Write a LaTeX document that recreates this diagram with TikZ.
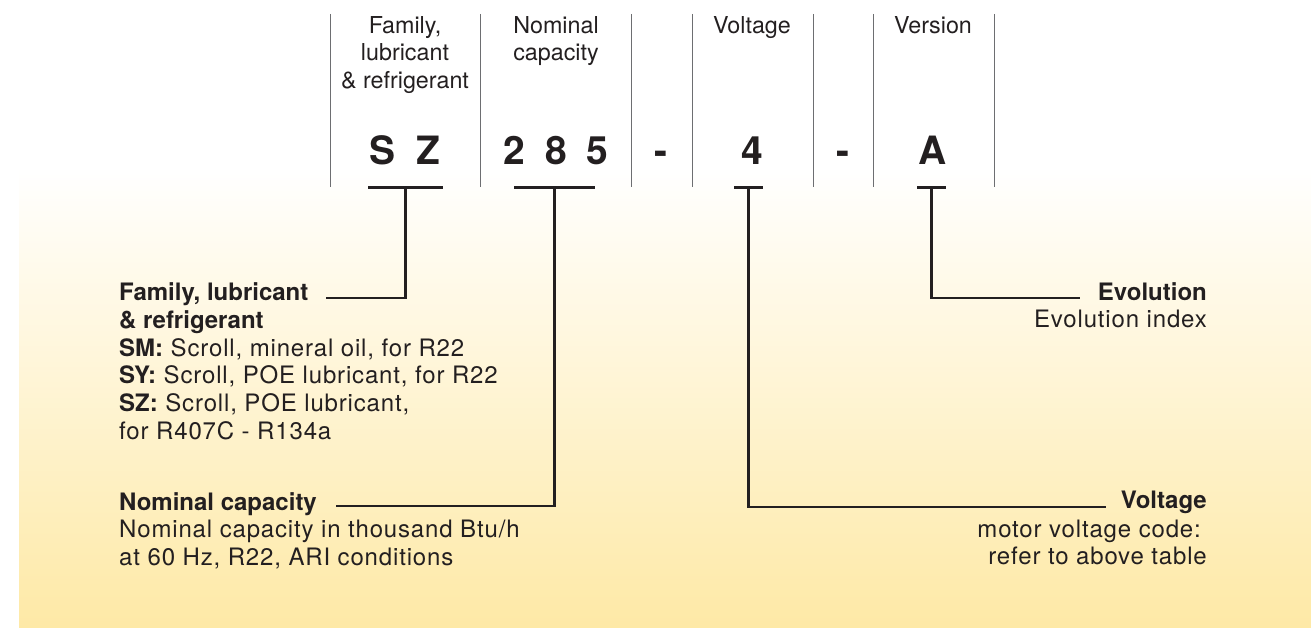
\documentclass[tikz,border=0pt]{standalone}
\usepackage{fontspec}
\setmainfont{TeX Gyre Heros}
\newfontfamily\bodyfont[LetterSpace=3.5]{TeX Gyre Heros}
\definecolor{ink}{HTML}{231F20}
\definecolor{rulegray}{HTML}{6D6E71}
\definecolor{cream}{HTML}{FEE9A6}
\newcommand{\key}[1]{{\normalfont\bfseries #1}}

\begin{document}
\begin{tikzpicture}[x=1pt,y=1pt,
  every node/.style={inner sep=0pt,text=ink},
  head/.style={align=center,anchor=north,font=\fontsize{23.3}{27.5}\selectfont},
  code/.style={anchor=base,font=\fontsize{39}{39}\selectfont\bfseries},
  bar/.style={fill=ink,minimum height=2.6pt},
  title/.style={font=\fontsize{24}{27.8}\selectfont\bfseries},
  body/.style={font=\fontsize{24}{27.8}\selectfont\bodyfont},
  lead/.style={draw=ink,line width=2.5pt},
  sep/.style={draw=rulegray,line width=1pt}]

  \useasboundingbox (0,0) rectangle (1311,-628);
  \shade[top color=white,bottom color=cream] (19,-167) rectangle (1311,-628);

  % table rules
  \draw[sep] (330,-14) -- (330,-187) (480,-14) -- (480,-187)
    (631,-14) -- (631,-187) (692,-14) -- (692,-187)
    (813,-14) -- (813,-187) (873,-14) -- (873,-187)
    (994,-14) -- (994,-187);

  % column heads
  \node[head] (h1) at (405,-16.2) {Family,\\lubricant\\\& refrigerant};
  \node[head] (h2) at (556,-16.2) {Nominal\\capacity};
  \node[head] (h4) at (752,-16.2) {Voltage};
  \node[head] (h6) at (933,-16.2) {Version};

  % the code
  \node[code] (s) at (383,-165) {S};
  \node[code] (z) at (428,-165) {Z};
  \node[code] (2) at (514,-165) {2};
  \node[code] (8) at (556,-165) {8};
  \node[code] (5) at (597,-165) {5};
  \node[code] (d1) at (661,-165) {-};
  \node[code] (4) at (752,-165) {4};
  \node[code] (d2) at (843,-165) {-};
  \node[code] (a) at (933,-165) {A};

  \node[bar,minimum width=75pt] (fbar) at (405.5,-187.3) {};
  \node[bar,minimum width=81pt] (cbar) at (554.5,-187.3) {};
  \node[bar,minimum width=29pt] (vbar) at (748.5,-187.3) {};
  \node[bar,minimum width=29pt] (ebar) at (931.5,-187.3) {};

  % explanations
  \node[title,anchor=base west] (fam) at (119,-300) {Family, lubricant};
  \node[body,align=left,anchor=north west] (famt) at ([yshift=-10.3pt]fam.base west)
    {\key{\& refrigerant}\\\key{SM:} Scroll, mineral oil, for R22\\
     \key{SY:} Scroll, POE lubricant, for R22\\\key{SZ:} Scroll, POE lubricant,\\
     for R407C - R134a};

  \node[title,anchor=base west] (nom) at (119,-510) {Nominal capacity};
  \node[body,align=left,anchor=north west] (nomt) at ([yshift=-10.3pt]nom.base west)
    {Nominal capacity in thousand Btu/h\\at 60 Hz, R22, ARI conditions};

  \node[title,anchor=base east] (evo) at (1207,-300) {Evolution};
  \node[body,align=right,anchor=north east] (evot) at ([yshift=-9.5pt]evo.base east)
    {Evolution index};

  \node[title,anchor=base east] (volt) at (1207,-508) {Voltage};
  \node[body,align=right,anchor=north east] (voltt) at ([yshift=-11.5pt]volt.base east)
    {motor voltage code:\hspace*{6pt}\\refer to above table};

  \draw[lead] (fbar.center) |- ([shift={(17pt,2pt)}]fam.base east);
  \draw[lead] (cbar.center) |- ([shift={(19pt,4pt)}]nom.base east);
  \draw[lead] (vbar.center) |- ([shift={(-15pt,1pt)}]volt.base west);
  \draw[lead] (ebar.center) |- ([shift={(-18pt,2pt)}]evo.base west);
\end{tikzpicture}
\end{document}
